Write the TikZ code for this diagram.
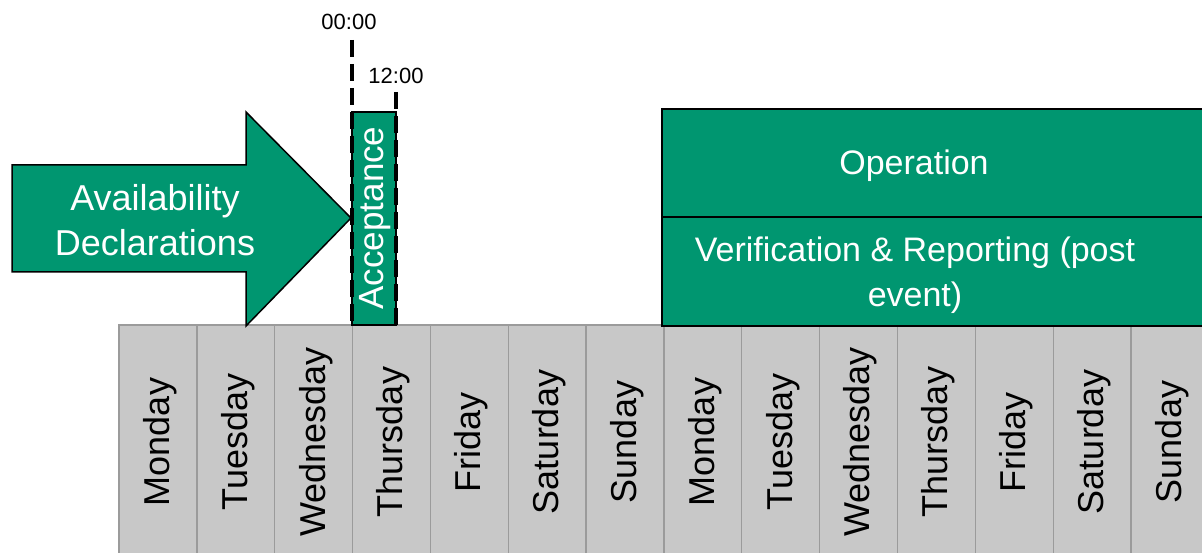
\documentclass[tikz,border=0pt]{standalone}
\usepackage{fontspec}
\setmainfont{Liberation Sans}
\definecolor{opgreen}{RGB}{0,150,112}
\definecolor{daygrey}{RGB}{200,200,200}
\definecolor{daygrid}{RGB}{155,155,155}
\tikzset{
  daycell/.style={fill=daygrey,draw=daygrid,line width=1.3pt},
  daytext/.style={rotate=90,font=\fontsize{36}{40}\selectfont,text=black,inner sep=0pt},
  greenbox/.style={fill=opgreen,draw=black,line width=1.5pt},
  whitetext/.style={text=white,align=center,inner sep=0pt,font=\fontsize{34}{45}\selectfont},
  timeline/.style={draw=black,line width=4pt,dash pattern=on 17pt off 7pt},
  timelabel/.style={font=\fontsize{22}{24}\selectfont,inner sep=0pt}
}
\begin{document}
\begin{tikzpicture}[x=1pt,y=-1pt]
\useasboundingbox (0,0) rectangle (1202,553);
\clip (0,0) rectangle (1202,553);
% day grid
\foreach \d [count=\i from 0] in {Monday,Tuesday,Wednesday,Thursday,Friday,Saturday,Sunday,Monday,Tuesday,Wednesday,Thursday,Friday,Saturday,Sunday}{
  \draw[daycell] (119+77.85*\i,325) rectangle ++(77.85,240);
  \node[daytext] (day\i) at (160+77.85*\i,442) {\d};
}
% arrow
\draw[greenbox,line join=miter] (12,165) -- (246,165) -- (246,112) -- (351,218) -- (246,326) -- (246,272) -- (12,272) -- cycle;
\node[whitetext,font=\fontsize{36}{45}\selectfont] (avail) at (155,220) {Availability\\Declarations};
% acceptance
\draw[greenbox] (352,112) rectangle (396,325);
\node[whitetext,rotate=90,font=\fontsize{35}{40}\selectfont] (accept) at (375,218) {Acceptance};
\coordinate (t0top) at (352,40);
\coordinate (t0bot) at (352,325);
\coordinate (t12top) at (396,92);
\coordinate (t12bot) at (396,325);
\draw[timeline] (t0top) -- (t0bot);
\draw[timeline] (t12top) -- (t12bot);
\node[timelabel] (l00) at (349,22) {00:00};
\node[timelabel] (l12) at (396,76) {12:00};
% operation
\draw[greenbox] (662,109) rectangle (1215,217);
\node[whitetext] (op) at (914,166) {Operation};
\draw[greenbox] (662,217) rectangle (1215,326);
\node[whitetext] (ver) at (915,275) {Verification \& Reporting (post\\event)};
\end{tikzpicture}
\end{document}
